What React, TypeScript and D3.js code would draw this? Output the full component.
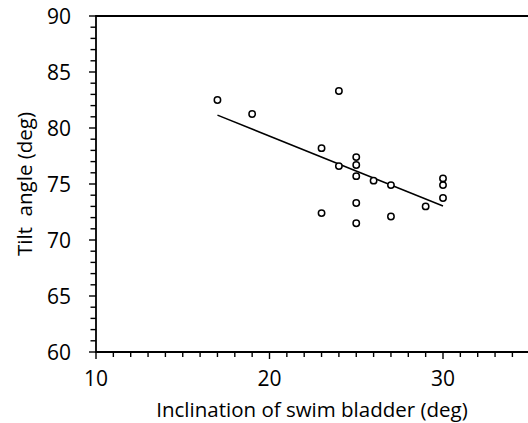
import React from "react";
import * as d3 from "d3";

const inclination = [17, 19, 23, 23, 24, 24, 25, 25, 25, 25, 25, 26, 27, 27, 29, 30, 30, 30];
const tilt = [82.5, 81.25, 78.2, 72.4, 83.3, 76.6, 77.4, 76.7, 75.7, 73.3, 71.5, 75.3, 74.9, 72.1, 73.0, 75.5, 74.9, 73.75];
const xTickLabels = [10, 20, 30];
const yTickLabels = [60, 65, 70, 75, 80, 85, 90];
const xTitle = "Inclination of swim bladder (deg)";
const yTitle = "Tilt  angle (deg)";

const W = 528;
const H = 423;
const FONT = "'Open Sans', sans-serif";

export default function App() {
  const x = d3.scaleLinear().domain([10, 40]).range([96, 96 + 30 * 17.35]);
  const y = d3.scaleLinear().domain([60, 90]).range([352, 16]);

  const n = inclination.length;
  const mx = d3.mean(inclination) as number;
  const my = d3.mean(tilt) as number;
  let sxy = 0;
  let sxx = 0;
  for (let i = 0; i < n; i++) {
    sxy += (inclination[i] - mx) * (tilt[i] - my);
    sxx += (inclination[i] - mx) ** 2;
  }
  const slope = sxy / sxx;
  const icpt = my - slope * mx;
  const [x0, x1] = d3.extent(inclination) as [number, number];
  const fitPts: [number, number][] = [
    [x0, icpt + slope * x0],
    [x1, icpt + slope * x1],
  ];
  const line = d3
    .line<[number, number]>()
    .x((d) => x(d[0]))
    .y((d) => y(d[1]));

  const xMinor = d3.range(10, 41, 1);
  const yMinor = d3.range(60, 91, 1);
  const xLeft = x(10);
  const yBottom = y(60);
  const yTop = y(90);

  return (
    <svg
      width={W}
      height={H}
      style={{ position: "absolute", left: 0, top: 0, background: "#fff" }}
      fontFamily={FONT}
    >
      <rect x={0} y={0} width={W} height={H} fill="#fff" />
      <line x1={xLeft} x2={W} y1={yTop} y2={yTop} stroke="#000" strokeWidth={1.8} />
      <line x1={xLeft} x2={W} y1={yBottom} y2={yBottom} stroke="#000" strokeWidth={1.8} />
      <line x1={xLeft} x2={xLeft} y1={yTop - 0.9} y2={yBottom + 0.9} stroke="#000" strokeWidth={1.8} />
      {xMinor.map((v) => {
        const major = v % 10 === 0;
        return (
          <line
            key={"xt" + v}
            x1={x(v)}
            x2={x(v)}
            y1={yBottom}
            y2={yBottom + (major ? 7 : 5)}
            stroke="#000"
            strokeWidth={1.4}
          />
        );
      })}
      {yMinor.map((v) => {
        const major = v % 5 === 0;
        return (
          <line
            key={"yt" + v}
            x1={xLeft - (major ? 7 : 5.5)}
            x2={xLeft}
            y1={y(v)}
            y2={y(v)}
            stroke="#000"
            strokeWidth={1.4}
          />
        );
      })}
      {xTickLabels.map((v) => (
        <text key={"xl" + v} x={x(v)} y={386} textAnchor="middle" fontSize={21} fontWeight={500} fill="#000">
          {v}
        </text>
      ))}
      {yTickLabels.map((v) => (
        <text key={"yl" + v} x={71} y={y(v) + 7.5} textAnchor="end" fontSize={21} fontWeight={500} fill="#000">
          {v}
        </text>
      ))}
      <path d={line(fitPts) || ""} fill="none" stroke="#000" strokeWidth={1.5} />
      {inclination.map((v, i) => (
        <circle key={"p" + i} cx={x(v)} cy={y(tilt[i])} r={3.2} fill="#fff" stroke="#000" strokeWidth={1.5} />
      ))}
      <text x={312} y={416.5} textAnchor="middle" fontSize={20.5} fontWeight={500} fill="#000">
        {xTitle}
      </text>
      <text
        transform={`translate(32,${(yTop + yBottom) / 2}) rotate(-90)`}
        textAnchor="middle"
        fontSize={20.5}
        fontWeight={500}
        fill="#000"
        style={{ whiteSpace: "pre" }}
      >
        {yTitle}
      </text>
    </svg>
  );
}
